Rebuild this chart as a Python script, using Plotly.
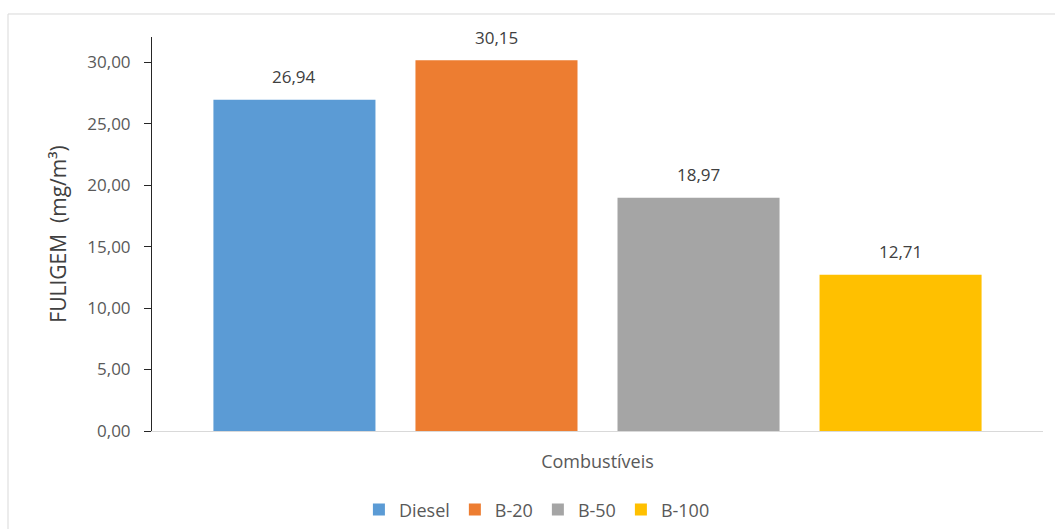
import plotly.graph_objects as go

# Soot concentration by fuel blend
fuels = ["Diesel", "B-20", "B-50", "B-100"]
fuligem = [26.94, 30.15, 18.97, 12.71]
colors = ["#5B9BD5", "#ED7D31", "#A5A5A5", "#FFC000"]
y_ticks = [0, 5, 10, 15, 20, 25, 30]

FONT = "Open Sans"

fig = go.Figure()
for name, val, col in zip(fuels, fuligem, colors):
    fig.add_trace(go.Bar(
        x=[name], y=[val], name=name,
        marker=dict(color=col, line=dict(width=0)),
        hoverinfo="name+y",
    ))
    fig.add_annotation(
        x=name, y=val, text=f"{val:.2f}".replace(".", ","),
        showarrow=False, yshift=23, yanchor="middle",
        font=dict(family=FONT, size=17, color="#404040"),
    )

fig.update_layout(
    width=1055, height=529,
    margin=dict(l=152, r=12, t=37, b=98, autoexpand=False),
    paper_bgcolor="white", plot_bgcolor="white",
    barmode="overlay", bargap=0.198,
    separators=", ",
    showlegend=True,
    legend=dict(
        orientation="h", x=0.432, xanchor="center", y=-0.2, yanchor="middle",
        font=dict(family=FONT, size=18, color="#595959"),
        itemwidth=30, traceorder="normal",
    ),
    font=dict(family=FONT, color="#595959"),
)

fig.update_xaxes(
    type="category", categoryorder="array", categoryarray=fuels,
    range=[-0.705, 3.705], automargin=False,
    showticklabels=False, ticks="",
    showline=True, linecolor="#D9D9D9", linewidth=1,
    showgrid=False, zeroline=False,
    title=dict(text="Combustíveis", standoff=24,
               font=dict(family=FONT, size=18, color="#595959")),
)

fig.update_yaxes(
    range=[0, 32.05], tickvals=y_ticks, tickformat=".2f", automargin=False,
    ticks="outside", ticklen=7, tickcolor="#262626", tickwidth=1,
    ticklabelstandoff=10,
    showline=True, linecolor="#262626", linewidth=1,
    showgrid=False, zeroline=False,
    tickfont=dict(family=FONT, size=17, color="#595959"),
    title=dict(text="FULIGEM  (mg/m³)", standoff=14,
               font=dict(family=FONT, size=21, color="#404040")),
)

# light chart-area frame
fig.add_shape(
    type="rect", xref="paper", yref="paper",
    x0=-0.1616, x1=1.03, y0=-0.3, y1=1.0584,
    line=dict(color="#D9D9D9", width=1), fillcolor="rgba(0,0,0,0)", layer="below",
)

fig.write_html("out.html")
